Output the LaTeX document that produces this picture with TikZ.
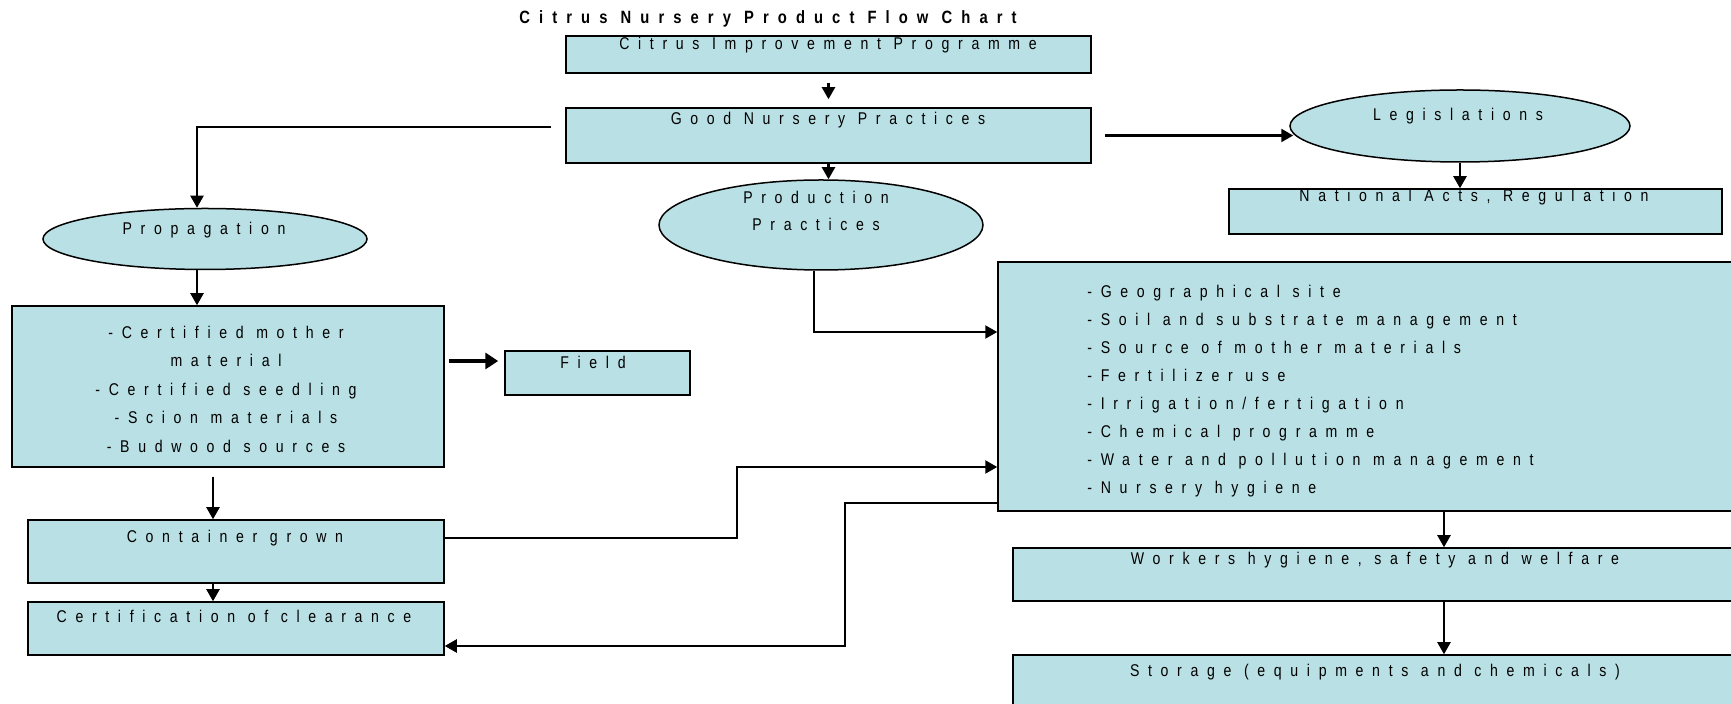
\documentclass[tikz,border=0pt]{standalone}
\usepackage{fontspec}
\setmainfont{Liberation Sans}
\newfontfamily\lblfont[LetterSpace=51,FakeStretch=0.83]{Liberation Sans}
\usetikzlibrary{arrows.meta,shapes.geometric}
\definecolor{boxfill}{RGB}{185,224,228}
\begin{document}
\begin{tikzpicture}[x=0.5pt,y=-0.5pt,
  box/.style={draw=black,line width=0.75pt,fill=boxfill,rectangle,inner sep=0pt},
  oval/.style={draw=black,line width=0.75pt,fill=boxfill,ellipse,inner sep=0pt},
  lbl/.style={font=\lblfont\fontsize{8.5}{14}\selectfont,inner sep=0pt,text height=6.2pt,text depth=1.8pt},
  lblm/.style={inner sep=0pt},
  conn/.style={draw,line width=1.1pt,-{Triangle[length=6pt,width=6.5pt]}},
  connbig/.style={draw,line width=1.7pt,-{Triangle[length=6.5pt,width=8pt]}}]
\useasboundingbox (0,0) rectangle (1731,704);
\clip (0,0) rectangle (1731,704);

% title
\node[lbl,font=\lblfont\bfseries\fontsize{8.9}{14}\selectfont] (title) at (768,19) {Citrus Nursery Product Flow Chart};

% top column
\node[box,minimum width=262.5pt,minimum height=18.5pt] (cip) at (828.5,54.5) {};
\node[lbl] (ciptext) at (828,45) {Citrus Improvement Programme};
\node[box,minimum width=262.5pt,minimum height=27.5pt] (gnp) at (828.5,135.5) {};
\node[lbl] (gnptext) at (828,120) {Good Nursery Practices};

% legislation branch
\node[oval,minimum width=170pt,minimum height=36pt] (leg) at (1460,126) {};
\node[lbl] (legtext) at (1458,116) {Legislations};
\node[box,minimum width=246.5pt,minimum height=22.5pt] (nat) at (1475.5,211.5) {};
\node[lbl] (nattext) at (1474,197) {National Acts, Regulation};

% production practices
\node[oval,minimum width=162pt,minimum height=45pt] (prod) at (821,225) {};
\node[lblm,align=center,font=\lblfont\fontsize{8.5}{13.5}\selectfont] (prodtext) at (816,211) {Production\\Practices};

% propagation branch
\node[oval,minimum width=162pt,minimum height=30.5pt] (prop) at (205,239) {};
\node[lbl] (proptext) at (204,230) {Propagation};
\node[box,minimum width=216pt,minimum height=80.5pt] (cert) at (228,386.5) {};
\node[lblm,align=center,font=\lblfont\fontsize{8.5}{14.25}\selectfont] (certtext) at (226,389) {-Certified mother\\material\\-Certified seedling\\-Scion materials\\-Budwood sources};
\node[box,minimum width=92.5pt,minimum height=22pt] (field) at (597.5,373) {};
\node[lbl] (fieldtext) at (593,364) {Field};
\node[box,minimum width=208pt,minimum height=31.5pt] (cont) at (236,551.5) {};
\node[lbl] (conttext) at (235,538) {Container grown};
\node[box,minimum width=208pt,minimum height=26.5pt] (clear) at (236,628.5) {};
\node[lbl] (cleartext) at (234,618) {Certification of clearance};

% practices box and what follows it
\node[box,minimum width=373.5pt,minimum height=124.5pt] (big) at (1371.5,386.5) {};
\node[lblm,align=left,anchor=west,font=\lblfont\fontsize{8.5}{13.95}\selectfont] (bigtext) at (1087,391) {-Geographical site\\-Soil and substrate management\\-Source of mother materials\\-Fertilizer use\\-Irrigation/fertigation\\-Chemical programme\\-Water and pollution management\\-Nursery hygiene};
\node[box,minimum width=366pt,minimum height=26.5pt] (work) at (1379,574.5) {};
\node[lbl] (worktext) at (1375,560) {Workers hygiene, safety and welfare};
\node[box,minimum width=366pt,minimum height=32.5pt] (stor) at (1379,687.5) {};
\node[lbl] (stortext) at (1375,672) {Storage (equipments and chemicals)};

% connectors
\draw[conn,shorten <=4.5pt,shorten >=4pt] (cip.south) -- (gnp.north);
\draw[conn] ([xshift=-7pt,yshift=4.25pt]gnp.west) -| ([xshift=-4pt]prop.north);
\draw[conn] ([xshift=6.5pt]gnp.east) -- ([xshift=2pt]leg.west |- gnp.east);
\draw[conn] (leg.south) -- (leg.south |- nat.north);
\draw[conn] (gnp.south) -- (gnp.south |- prod.north);
\draw[conn] ([xshift=-4pt]prop.south) -- ([xshift=-4pt]prop.south |- cert.north);
\draw[connbig] ([xshift=2pt,yshift=12.75pt]cert.east) -- ([xshift=-3pt,yshift=6pt]field.west);
\draw[conn] ([xshift=-7.5pt,yshift=-4.5pt]cert.south) -- ([xshift=-11.5pt]cont.north);
\draw[conn] ([xshift=-11.5pt]cont.south) -- ([xshift=-11.5pt]clear.north);
\draw[conn] ([yshift=6.75pt]cont.east) -- ++(146pt,0) |- ([yshift=-40.25pt]big.west);
\draw[conn] ([yshift=-58.25pt]big.west) -- ++(-76pt,0) |- ([yshift=-8.75pt]clear.east);
\draw[conn] ([xshift=-3.5pt]prod.south) |- ([yshift=27.25pt]big.west);
\draw[conn] ([xshift=36.25pt]big.south) -- ([xshift=32.5pt]work.north);
\draw[conn] ([xshift=32.5pt]work.south) -- ([xshift=32.5pt]stor.north);
\end{tikzpicture}
\end{document}
